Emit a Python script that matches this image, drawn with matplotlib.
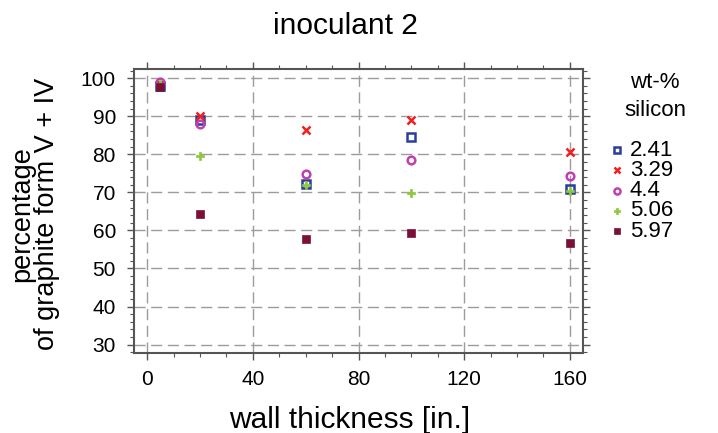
import matplotlib as mpl
mpl.use("Agg")
import matplotlib.pyplot as plt
from matplotlib.ticker import MultipleLocator

plt.rcParams.update({"font.family": ["Liberation Sans", "DejaVu Sans"]})

# ---- data ----
thickness = [5, 20, 60, 100, 160]
silicon = ["2.41", "3.29", "4.4", "5.06", "5.97"]
pct_241 = [98.0, 89.0, 72.3, 84.6, 71.0]
pct_329 = [98.3, 90.0, 86.4, 89.1, 80.5]
pct_44 = [99.1, 88.0, 74.9, 78.6, 74.4]
pct_506 = [98.4, 79.5, 71.8, 69.8, 70.4]
pct_597 = [97.7, 64.4, 57.7, 59.4, 56.6]

series = [pct_241, pct_329, pct_44, pct_506, pct_597]
colors = ["#2b3d9a", "#f02020", "#c040b0", "#8cc83c", "#7a1038"]
markers = ["s", "x", "o", "P", "s"]
filled = [False, True, False, True, True]

W, H = 718, 433
fig = plt.figure(figsize=(W / 100, H / 100), dpi=100)
ax = fig.add_axes([134 / W, 1 - 353 / H, (583 - 134) / W, (353 - 69) / H])


def style(m, c, f):
    if f:
        return dict(marker=m, ms=6, color=c, mew=1.8 if m == "x" else 0.5)
    return dict(marker=m, ms=5.5, mfc="none", mec=c, mew=1.8)


for vals, lab, c, m, f in zip(series, silicon, colors, markers, filled):
    ax.plot(thickness, vals, ls="none", zorder=3, **style(m, c, f))

ax.set_xlim(-5, 165)
ax.set_ylim(27.8, 102.4)
ax.xaxis.set_major_locator(MultipleLocator(40))
ax.xaxis.set_minor_locator(MultipleLocator(10))
ax.yaxis.set_major_locator(MultipleLocator(10))
ax.yaxis.set_minor_locator(MultipleLocator(2))
ax.tick_params(which="both", direction="out", top=True, right=True,
               labeltop=False, labelright=False, color="#555555")
ax.tick_params(which="major", length=5, width=1.0, labelsize=15)
ax.tick_params(axis="x", which="major", pad=7)
ax.tick_params(axis="y", which="major", pad=8)
ax.tick_params(which="minor", length=3, width=0.8)
ax.grid(True, which="major", color="#a09a9a", ls=(0, (8, 4)), lw=1.0, zorder=0)
for s in ax.spines.values():
    s.set_color("#555555")
    s.set_linewidth(1.5)

ax.set_xlabel("wall thickness [in.]", fontsize=21.5)
ax.xaxis.set_label_coords(0.481, -0.185)
ax.set_ylabel("percentage\nof graphite form V + IV", fontsize=19.5, linespacing=0.92)
ax.yaxis.set_label_coords(-0.165, 0.49)
ax.set_title("inoculant 2", fontsize=21.5, pad=25, x=0.47)

# legend drawn by hand so rows sit as tightly as in the source
fig.text(655 / W, 1 - 82 / H, "wt-%", fontsize=16, ha="center", va="center")
fig.text(655 / W, 1 - 110 / H, "silicon", fontsize=16, ha="center", va="center")
for i, (lab, c, m, f) in enumerate(zip(silicon, colors, markers, filled)):
    yy = 1 - (150 + i * 20.3) / H
    st = style(m, c, f)
    st["ms"] = st["ms"] * 0.8
    fig.add_artist(plt.Line2D([617 / W], [yy], ls="none", transform=fig.transFigure, **st))
    fig.text(630 / W, yy, lab, fontsize=16, ha="left", va="center")

fig.savefig("out.png", dpi=100)
